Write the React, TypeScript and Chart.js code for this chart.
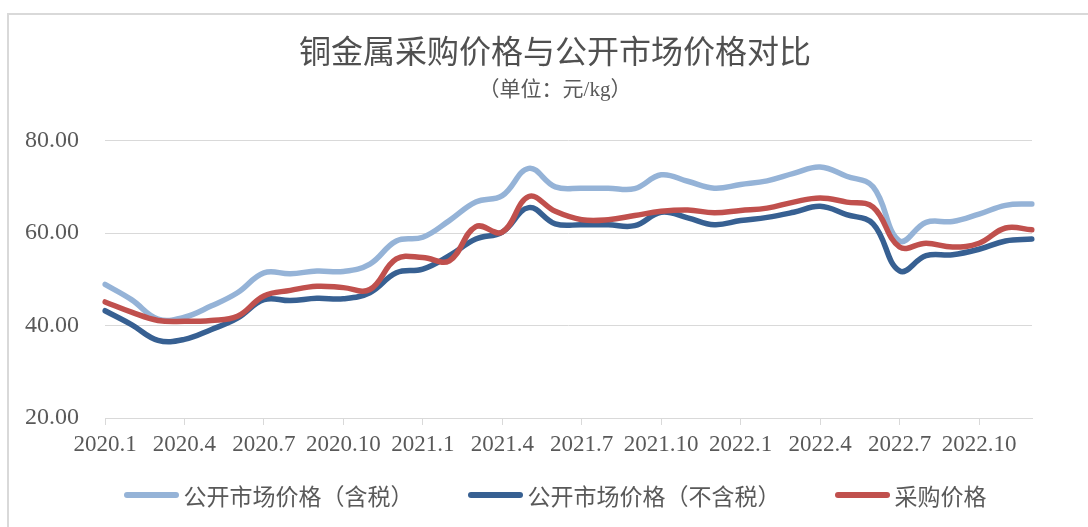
import React, { useEffect, useRef } from "react";
import { Chart, registerables } from "chart.js";

Chart.register(...registerables);

const months: string[] = [
  "2020.1", "2020.2", "2020.3", "2020.4", "2020.5", "2020.6", "2020.7", "2020.8", "2020.9", "2020.10", "2020.11", "2020.12",
  "2021.1", "2021.2", "2021.3", "2021.4", "2021.5", "2021.6", "2021.7", "2021.8", "2021.9", "2021.10", "2021.11", "2021.12",
  "2022.1", "2022.2", "2022.3", "2022.4", "2022.5", "2022.6", "2022.7", "2022.8", "2022.9", "2022.10", "2022.11", "2022.12",
];

const marketWithTax: number[] = [
  48.9, 45.6, 41.4, 41.8, 44.2, 47.1, 51.4, 51.2, 51.8, 51.7, 53.3, 58.3,
  59.1, 62.7, 66.7, 68.1, 74.0, 70.0, 69.7, 69.7, 69.6, 72.6, 71.2, 69.7,
  70.5, 71.3, 72.9, 74.3, 72.3, 70.0, 58.3, 62.3, 62.5, 64.1, 66.0, 66.3,
];

const marketNoTax: number[] = [
  43.2, 40.2, 36.8, 37.0, 39.1, 41.6, 45.6, 45.4, 45.9, 45.8, 47.1, 51.4,
  52.2, 55.1, 58.7, 60.2, 65.5, 62.0, 61.8, 61.8, 61.6, 64.5, 63.3, 61.8,
  62.7, 63.4, 64.5, 65.8, 64.0, 62.0, 51.8, 55.1, 55.3, 56.5, 58.3, 58.7,
];

const purchasePrice: number[] = [
  45.1, 42.9, 41.1, 40.9, 41.1, 42.0, 46.4, 47.6, 48.5, 48.2, 47.8, 54.4,
  54.7, 54.0, 61.4, 60.2, 67.9, 64.7, 62.9, 62.9, 63.8, 64.7, 65.0, 64.4,
  64.9, 65.4, 66.7, 67.6, 66.7, 65.6, 57.0, 57.8, 57.0, 57.8, 61.1, 60.7,
];

const seriesNames: string[] = ["公开市场价格（含税）", "公开市场价格（不含税）", "采购价格"];
const seriesColors: string[] = ["#95B3D7", "#376092", "#C0504D"];
const titleText = "铜金属采购价格与公开市场价格对比";
const subtitleText = "（单位：元/kg）";

const TEXT = "#595959";
const GRID = "#d9d9d9";
const CJK = "'Noto Sans CJK SC', sans-serif";
const SERIF = "'Liberation Serif', 'Noto Sans CJK SC', serif";

export default function App() {
  const ref = useRef<HTMLCanvasElement | null>(null);

  useEffect(() => {
    if (!ref.current) return;
    const values = [marketWithTax, marketNoTax, purchasePrice];
    const orders = [2, 1, 0];
    const chart = new Chart(ref.current, {
      type: "line",
      data: {
        labels: months,
        datasets: values.map((v, i) => ({
          label: seriesNames[i],
          data: v,
          borderColor: seriesColors[i],
          backgroundColor: seriesColors[i],
          borderWidth: 5.5,
          tension: 0.4,
          pointRadius: 0,
          pointHoverRadius: 0,
          borderCapStyle: "round" as const,
          borderJoinStyle: "round" as const,
          fill: false,
          order: orders[i],
        })),
      },
      options: {
        responsive: false,
        animation: false,
        layout: { padding: { left: 22, right: 0, top: 0, bottom: 62.4 } },
        plugins: {
          tooltip: { enabled: false },
          legend: { display: false },
          title: {
            display: true,
            text: titleText,
            color: "#505050",
            font: { family: CJK, size: 32, weight: "normal" },
            padding: { top: 32, bottom: 0 },
          },
          subtitle: {
            display: true,
            text: subtitleText,
            color: TEXT,
            font: { family: SERIF, size: 21, weight: "normal" },
            padding: { top: 7, bottom: 38 },
          },
        },
        scales: {
          x: {
            type: "category",
            offset: false,
            border: { display: true, color: GRID, width: 1 },
            grid: {
              drawOnChartArea: false,
              drawTicks: true,
              tickLength: 7,
              color: GRID,
            },
            ticks: {
              autoSkip: false,
              maxRotation: 0,
              minRotation: 0,
              padding: 6,
              color: TEXT,
              font: { family: SERIF, size: 23 },
              callback: (_v: any, i: number) => (i % 3 === 0 ? months[i] : null),
            },
          },
          y: {
            position: "left",
            min: 20,
            max: 80,
            border: { display: false },
            grid: { color: GRID, lineWidth: 1, drawTicks: false },
            ticks: {
              stepSize: 20,
              padding: 26,
              color: TEXT,
              font: { family: SERIF, size: 24 },
              callback: (v: any) => Number(v).toFixed(2),
            },
            afterFit: (s: any) => {
              s.width = 83;
            },
          },
          yRight: {
            position: "right",
            display: true,
            border: { display: false },
            grid: { display: false, drawOnChartArea: false },
            ticks: { display: false },
            afterFit: (s: any) => {
              s.width = 56;
            },
          },
        },
      },
    } as any);
    return () => chart.destroy();
  }, []);

  return (
    <div style={{ position: "fixed", left: 0, top: 0, width: 1088, height: 527, overflow: "hidden", background: "#fff" }}>
      <div
        style={{
          position: "absolute",
          left: 7,
          top: 13,
          width: 1200,
          height: 600,
          borderLeft: `2px solid ${GRID}`,
          borderTop: `2px solid ${GRID}`,
        }}
      />
      <canvas ref={ref} width={1088} height={527} style={{ position: "absolute", left: 0, top: 0 }} />
      <div
        style={{
          position: "absolute",
          left: 22,
          width: 1066,
          top: 480,
          height: 30,
          display: "flex",
          justifyContent: "center",
          alignItems: "center",
          gap: 54,
          fontFamily: CJK,
          fontSize: 23,
          lineHeight: "30px",
          color: TEXT,
          whiteSpace: "nowrap",
        }}
      >
        {seriesNames.map((name, i) => (
          <div key={name} style={{ display: "flex", alignItems: "center", gap: 5 }}>
            <div style={{ width: 55, height: 6, borderRadius: 3, background: seriesColors[i] }} />
            <span>{name}</span>
          </div>
        ))}
      </div>
    </div>
  );
}
